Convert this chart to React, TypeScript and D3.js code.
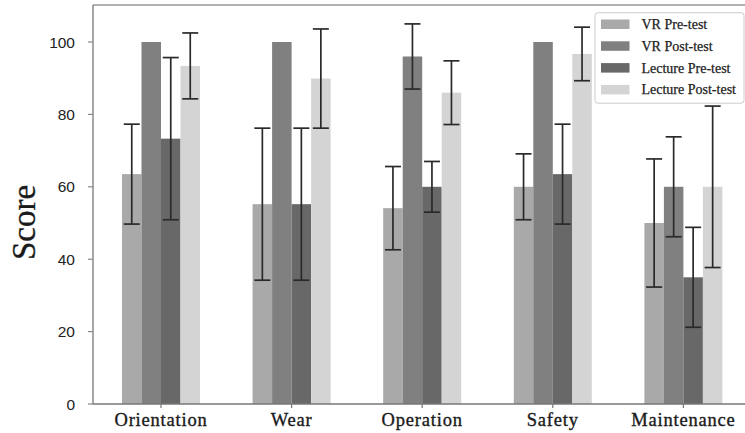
import React from 'react';
import * as d3 from 'd3';

const categories = ['Orientation', 'Wear', 'Operation', 'Safety', 'Maintenance'];
const seriesNames = ['VR Pre-test', 'VR Post-test', 'Lecture Pre-test', 'Lecture Post-test'];
const seriesColors = ['#a9a9a9', '#808080', '#686868', '#d4d4d4'];

// means
const vrPre = [63.5, 55.2, 54.1, 60, 50];
const vrPost = [100, 100, 96, 100, 60];
const lecturePre = [73.3, 55.2, 60, 63.5, 35];
const lecturePost = [93.4, 89.9, 86, 96.7, 60];

// standard deviations (error bars)
const vrPreErr = [13.8, 21, 11.5, 9.1, 17.7];
const vrPostErr = [0, 0, 9, 0, 13.8];
const lecturePreErr = [22.4, 21, 7, 13.8, 13.8];
const lecturePostErr = [9.1, 13.7, 8.8, 7.4, 22.3];

const yTicks = [0, 20, 40, 60, 80, 100];

const values = [vrPre, vrPost, lecturePre, lecturePost];
const errors = [vrPreErr, vrPostErr, lecturePreErr, lecturePostErr];

const W = 745;
const H = 433;
const axisLeft = 93;
const axisBottom = 404;
const plotTop = 5;

export default function App() {
  const y = d3.scaleLinear().domain([0, 110]).range([axisBottom, 5.8]);
  const x = d3.scaleBand<string>().domain(categories).range([95.7, 748.7]);
  const groupWidth = 78;
  const x1 = d3.scaleBand<string>().domain(seriesNames).range([-groupWidth / 2, groupWidth / 2]);
  const bw = x1.bandwidth();
  const cap = 8;
  const serif = '"Liberation Serif", "Times New Roman", serif';

  return (
    <svg
      width={W}
      height={H}
      style={{ position: 'absolute', left: 0, top: 0, background: '#fff' }}
    >
      {/* frame */}
      <line x1={axisLeft} x2={W} y1={plotTop} y2={plotTop} stroke="#999" strokeWidth={1.5} />

      {/* bars */}
      {seriesNames.map((s, si) => (
        <g key={s}>
          {categories.map((c, ci) => {
            const cx = (x(c) as number) + x.bandwidth() / 2;
            const v = values[si][ci];
            return (
              <rect
                key={c}
                x={cx + (x1(s) as number)}
                y={y(v)}
                width={bw}
                height={axisBottom - y(v)}
                fill={seriesColors[si]}
              />
            );
          })}
        </g>
      ))}

      {/* error bars */}
      {seriesNames.map((s, si) => (
        <g key={s} stroke="#2a2a2a" strokeWidth={1.7}>
          {categories.map((c, ci) => {
            const e = errors[si][ci];
            if (!e) return null;
            const cx = (x(c) as number) + x.bandwidth() / 2 + (x1(s) as number) + bw / 2;
            const v = values[si][ci];
            const top = y(v + e);
            const bot = y(v - e);
            return (
              <g key={c}>
                <line x1={cx} x2={cx} y1={top} y2={bot} />
                <line x1={cx - cap} x2={cx + cap} y1={top} y2={top} />
                <line x1={cx - cap} x2={cx + cap} y1={bot} y2={bot} />
              </g>
            );
          })}
        </g>
      ))}

      {/* axes */}
      <line x1={axisLeft} x2={axisLeft} y1={plotTop} y2={axisBottom} stroke="#888" strokeWidth={1.5} />
      <line x1={axisLeft} x2={W} y1={axisBottom} y2={axisBottom} stroke="#777" strokeWidth={1.5} />

      {yTicks.map((t) => (
        <g key={t}>
          <line x1={axisLeft - 5} x2={axisLeft} y1={y(t)} y2={y(t)} stroke="#888" strokeWidth={1.2} />
          <text
            x={75}
            y={y(t)}
            dy="0.36em"
            textAnchor="end"
            fontFamily='"Liberation Sans", Arial, sans-serif'
            fontSize={15.5}
            fill="#222"
          >
            {t}
          </text>
        </g>
      ))}

      {categories.map((c) => {
        const cx = (x(c) as number) + x.bandwidth() / 2;
        return (
          <g key={c}>
            <line x1={cx} x2={cx} y1={axisBottom} y2={axisBottom + 4} stroke="#777" strokeWidth={1.2} />
            <text
              x={cx}
              y={426}
              textAnchor="middle"
              fontFamily={serif}
              fontSize={18.5}
              letterSpacing={0.8}
              fill="#1a1a1a"
              stroke="#1a1a1a"
              strokeWidth={0.35}
            >
              {c}
            </text>
          </g>
        );
      })}

      <text
        transform="translate(35,222.5) rotate(-90)"
        textAnchor="middle"
        fontFamily={serif}
        fontSize={33}
        fill="#1a1a1a"
        stroke="#1a1a1a"
        strokeWidth={0.3}
      >
        Score
      </text>

      {/* legend */}
      <g>
        <rect x={595} y={12.7} width={149} height={90.5} rx={3} fill="#fff" fillOpacity={0.9} stroke="#ccc" strokeWidth={1} />
        {seriesNames.map((s, i) => (
          <g key={s} transform={`translate(0,${24 + i * 21.8})`}>
            <rect x={601} y={-4.5} width={28.5} height={9.5} fill={seriesColors[i]} />
            <text
              x={641.5}
              y={0}
              dy="0.35em"
              fontFamily={serif}
              fontSize={14}
              fill="#222"
              stroke="#222"
              strokeWidth={0.25}
            >
              {s}
            </text>
          </g>
        ))}
      </g>
    </svg>
  );
}
